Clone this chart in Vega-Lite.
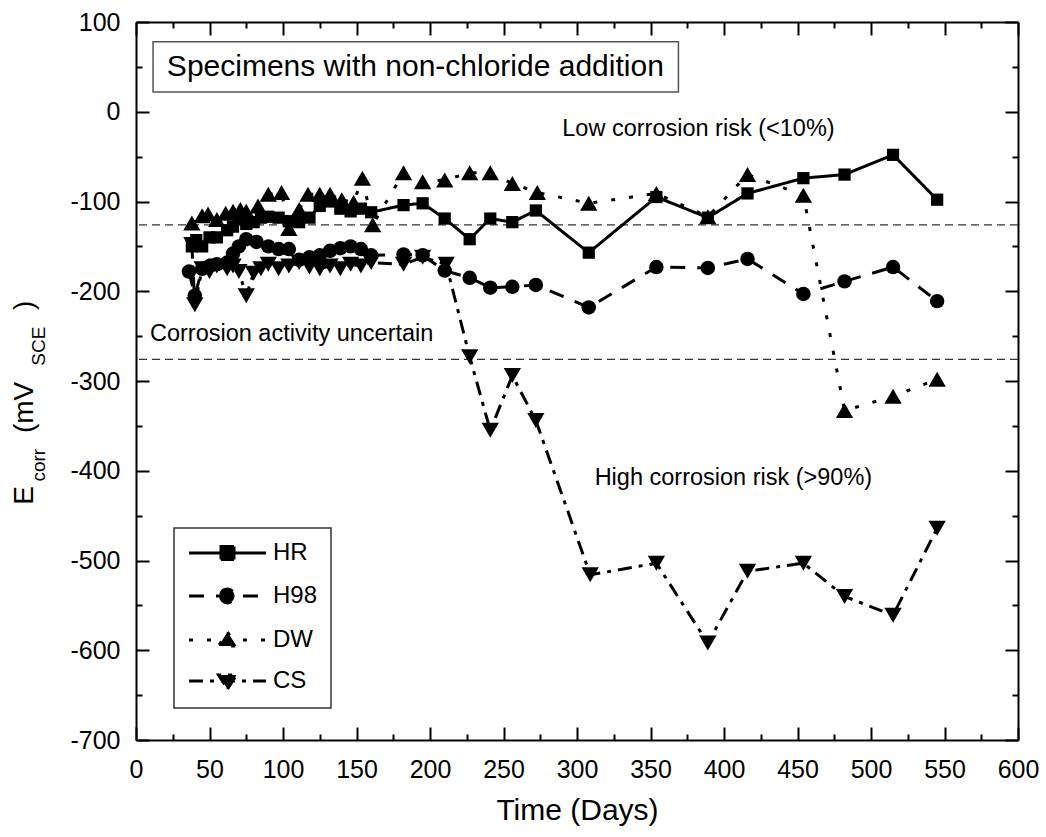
{
  "$schema": "https://vega.github.io/schema/vega-lite/v6.json",
  "width": 882,
  "height": 718,
  "autosize": "none",
  "padding": {"left": 136, "top": 22, "right": 28, "bottom": 97},
  "background": "white",
  "datasets": {
    "pts": [
      {"series":"HR","day":38,"e":-150},{"series":"HR","day":41,"e":-143},{"series":"HR","day":45,"e":-150},{"series":"HR","day":50,"e":-140},{"series":"HR","day":55,"e":-140},{"series":"HR","day":62,"e":-132},{"series":"HR","day":66,"e":-128},{"series":"HR","day":70,"e":-120},{"series":"HR","day":75,"e":-125},{"series":"HR","day":80,"e":-123},{"series":"HR","day":85,"e":-118},{"series":"HR","day":90,"e":-117},{"series":"HR","day":97,"e":-118},{"series":"HR","day":104,"e":-122},{"series":"HR","day":111,"e":-123},{"series":"HR","day":118,"e":-118},{"series":"HR","day":125,"e":-105},{"series":"HR","day":132,"e":-100},{"series":"HR","day":139,"e":-108},{"series":"HR","day":146,"e":-111},{"series":"HR","day":153,"e":-108},{"series":"HR","day":160,"e":-112},{"series":"HR","day":182,"e":-104},{"series":"HR","day":195,"e":-102},{"series":"HR","day":210,"e":-119},{"series":"HR","day":227,"e":-142},{"series":"HR","day":241,"e":-119},{"series":"HR","day":256,"e":-123},{"series":"HR","day":272,"e":-110},{"series":"HR","day":308,"e":-157},{"series":"HR","day":354,"e":-95},{"series":"HR","day":389,"e":-118},{"series":"HR","day":416,"e":-91},{"series":"HR","day":454,"e":-74},{"series":"HR","day":482,"e":-70},{"series":"HR","day":515,"e":-48},{"series":"HR","day":545,"e":-98},
      {"series":"H98","day":36,"e":-178},{"series":"H98","day":40,"e":-205},{"series":"H98","day":45,"e":-175},{"series":"H98","day":50,"e":-172},{"series":"H98","day":55,"e":-170},{"series":"H98","day":62,"e":-168},{"series":"H98","day":66,"e":-158},{"series":"H98","day":70,"e":-150},{"series":"H98","day":75,"e":-142},{"series":"H98","day":82,"e":-145},{"series":"H98","day":90,"e":-150},{"series":"H98","day":97,"e":-153},{"series":"H98","day":104,"e":-153},{"series":"H98","day":111,"e":-165},{"series":"H98","day":118,"e":-162},{"series":"H98","day":125,"e":-160},{"series":"H98","day":132,"e":-155},{"series":"H98","day":139,"e":-152},{"series":"H98","day":146,"e":-150},{"series":"H98","day":153,"e":-153},{"series":"H98","day":160,"e":-160},{"series":"H98","day":182,"e":-159},{"series":"H98","day":195,"e":-160},{"series":"H98","day":210,"e":-177},{"series":"H98","day":227,"e":-185},{"series":"H98","day":241,"e":-196},{"series":"H98","day":256,"e":-195},{"series":"H98","day":272,"e":-193},{"series":"H98","day":308,"e":-218},{"series":"H98","day":354,"e":-173},{"series":"H98","day":389,"e":-174},{"series":"H98","day":416,"e":-164},{"series":"H98","day":454,"e":-203},{"series":"H98","day":482,"e":-189},{"series":"H98","day":515,"e":-173},{"series":"H98","day":545,"e":-211},
      {"series":"DW","day":38,"e":-124},{"series":"DW","day":45,"e":-116},{"series":"DW","day":49,"e":-114},{"series":"DW","day":55,"e":-120},{"series":"DW","day":61,"e":-113},{"series":"DW","day":66,"e":-111},{"series":"DW","day":71,"e":-109},{"series":"DW","day":75,"e":-111},{"series":"DW","day":83,"e":-105},{"series":"DW","day":90,"e":-92},{"series":"DW","day":99,"e":-90},{"series":"DW","day":104,"e":-130},{"series":"DW","day":111,"e":-109},{"series":"DW","day":117,"e":-92},{"series":"DW","day":125,"e":-92},{"series":"DW","day":132,"e":-92},{"series":"DW","day":140,"e":-98},{"series":"DW","day":148,"e":-101},{"series":"DW","day":154,"e":-74},{"series":"DW","day":161,"e":-126},{"series":"DW","day":182,"e":-68},{"series":"DW","day":195,"e":-78},{"series":"DW","day":210,"e":-76},{"series":"DW","day":227,"e":-68},{"series":"DW","day":241,"e":-68},{"series":"DW","day":256,"e":-80},{"series":"DW","day":273,"e":-90},{"series":"DW","day":308,"e":-102},{"series":"DW","day":354,"e":-91},{"series":"DW","day":389,"e":-117},{"series":"DW","day":416,"e":-70},{"series":"DW","day":454,"e":-93},{"series":"DW","day":482,"e":-333},{"series":"DW","day":515,"e":-317},{"series":"DW","day":545,"e":-298},
      {"series":"CS","day":38,"e":-148},{"series":"CS","day":40,"e":-215},{"series":"CS","day":45,"e":-175},{"series":"CS","day":50,"e":-178},{"series":"CS","day":55,"e":-172},{"series":"CS","day":62,"e":-175},{"series":"CS","day":66,"e":-172},{"series":"CS","day":70,"e":-178},{"series":"CS","day":75,"e":-205},{"series":"CS","day":80,"e":-180},{"series":"CS","day":85,"e":-175},{"series":"CS","day":90,"e":-170},{"series":"CS","day":97,"e":-175},{"series":"CS","day":104,"e":-172},{"series":"CS","day":111,"e":-168},{"series":"CS","day":118,"e":-173},{"series":"CS","day":125,"e":-175},{"series":"CS","day":132,"e":-172},{"series":"CS","day":139,"e":-175},{"series":"CS","day":146,"e":-170},{"series":"CS","day":153,"e":-172},{"series":"CS","day":160,"e":-168},{"series":"CS","day":182,"e":-170},{"series":"CS","day":195,"e":-162},{"series":"CS","day":211,"e":-170},{"series":"CS","day":227,"e":-273},{"series":"CS","day":241,"e":-355},{"series":"CS","day":256,"e":-294},{"series":"CS","day":272,"e":-344},{"series":"CS","day":309,"e":-516},{"series":"CS","day":354,"e":-503},{"series":"CS","day":389,"e":-592},{"series":"CS","day":416,"e":-512},{"series":"CS","day":454,"e":-503},{"series":"CS","day":482,"e":-540},{"series":"CS","day":515,"e":-561},{"series":"CS","day":545,"e":-464}
    ],
    "one": [{"k": 1}],
    "thresholds": [{"v": -126}, {"v": -276}]
  },
  "layer": [
    {
      "data": {"name": "thresholds"},
      "mark": {"type": "rule", "color": "#333333", "strokeDash": [8, 5], "strokeWidth": 1.3},
      "encoding": {
        "y": {"field": "v", "type": "quantitative", "scale": {"domain": [-700, 100], "nice": false, "zero": false}, "axis": null}
      }
    },
    {
      "data": {"name": "pts"},
      "mark": {"type": "line", "color": "black", "strokeWidth": 3},
      "encoding": {
        "x": {"field": "day", "type": "quantitative", "scale": {"domain": [0, 600], "nice": false, "zero": false},
          "axis": {"orient": "bottom", "values": [0,50,100,150,200,250,300,350,400,450,500,550,600], "tickSize": -13, "labelPadding": 30, "labelFlush": false, "title": "Time (Days)", "titleFontSize": 30, "titleFontWeight": "normal", "titlePadding": 13}},
        "y": {"field": "e", "type": "quantitative", "scale": {"domain": [-700, 100], "nice": false, "zero": false},
          "axis": {"orient": "left", "values": [-700,-600,-500,-400,-300,-200,-100,0,100], "tickSize": -13, "labelPadding": 29, "labelFlush": false, "title": null,
            "labelExpr": "datum.value < 0 ? '-' + abs(datum.value) : '' + datum.value"}},
        "strokeDash": {"field": "series", "type": "nominal",
          "scale": {"domain": ["HR", "H98", "DW", "CS"], "range": [[1, 0], [15, 12], [4, 14], [14, 7, 4, 7]]},
          "legend": {
            "title": null, "orient": "none", "legendX": 38, "legendY": 506,
            "labelFontSize": 24, "labelFont": "Liberation Sans", "labelColor": "black", "labelBaseline": "middle",
            "labelOffset": 62, "symbolSize": 400, "rowPadding": 17, "padding": 13,
            "strokeColor": "#333333", "symbolStrokeWidth": 3, "symbolStrokeColor": "black", "symbolFillColor": "black", "symbolOpacity": 1,
            "encode": {
              "symbols": {"update": {
                "shape": {"signal": "datum.value==='HR'?'M-1,0H6.7M2.2,-0.65H3.5V0.65H2.2Z':datum.value==='H98'?'M-1,0H6.7M2.15,0A0.7,0.7 0 1,0 3.55,0A0.7,0.7 0 1,0 2.15,0Z':datum.value==='DW'?'M-1,0H6.7M2.85,-0.8L3.75,0.6H1.95Z':'M-1,0H6.7M2.85,0.8L3.75,-0.6H1.95Z'"},
                "fill": {"value": "black"}, "fillOpacity": {"value": 1}, "stroke": {"value": "black"}, "strokeWidth": {"value": 3}, "opacity": {"value": 1}
              }},
              "legend": {"update": {"strokeWidth": {"value": 1.5}, "fill": {"value": "white"}}}
            }
          }
        }
      }
    },
    {
      "data": {"name": "pts"},
      "transform": [{"filter": "datum.series === 'HR'"}],
      "mark": {"type": "point", "shape": "square", "size": 150, "filled": true, "color": "black", "opacity": 1},
      "encoding": {
        "x": {"field": "day", "type": "quantitative", "scale": {"domain": [0, 600], "nice": false, "zero": false},
          "axis": {"orient": "top", "values": [0,50,100,150,200,250,300,350,400,450,500,550,600], "tickSize": -13, "labels": false, "title": null}},
        "y": {"field": "e", "type": "quantitative", "scale": {"domain": [-700, 100], "nice": false, "zero": false},
          "axis": {"orient": "right", "values": [-700,-600,-500,-400,-300,-200,-100,0,100], "tickSize": -13, "labels": false, "title": null}}
      }
    },
    {
      "data": {"name": "pts"},
      "transform": [{"filter": "datum.series === 'H98'"}],
      "mark": {"type": "point", "shape": "circle", "size": 210, "filled": true, "color": "black", "opacity": 1},
      "encoding": {
        "x": {"field": "day", "type": "quantitative", "scale": {"domain": [0, 600], "nice": false, "zero": false}, "axis": null},
        "y": {"field": "e", "type": "quantitative", "scale": {"domain": [-700, 100], "nice": false, "zero": false}, "axis": null}
      }
    },
    {
      "data": {"name": "pts"},
      "transform": [{"filter": "datum.series === 'DW'"}],
      "mark": {"type": "point", "shape": "triangle-up", "size": 300, "filled": true, "color": "black", "opacity": 1},
      "encoding": {
        "x": {"field": "day", "type": "quantitative", "scale": {"domain": [0, 600], "nice": false, "zero": false}, "axis": null},
        "y": {"field": "e", "type": "quantitative", "scale": {"domain": [-700, 100], "nice": false, "zero": false}, "axis": null}
      }
    },
    {
      "data": {"name": "pts"},
      "transform": [{"filter": "datum.series === 'CS'"}],
      "mark": {"type": "point", "shape": "triangle-down", "size": 300, "filled": true, "color": "black", "opacity": 1},
      "encoding": {
        "x": {"field": "day", "type": "quantitative", "scale": {"domain": [0, 600], "nice": false, "zero": false}, "axis": null},
        "y": {"field": "e", "type": "quantitative", "scale": {"domain": [-700, 100], "nice": false, "zero": false}, "axis": null}
      }
    },
    {
      "data": {"name": "one"},
      "mark": {"type": "point", "opacity": 0},
      "encoding": {
        "x": {"datum": 300, "type": "quantitative", "scale": {"domain": [0, 600], "nice": false, "zero": false},
          "axis": {"orient": "bottom", "values": [25,75,125,175,225,275,325,375,425,475,525,575], "tickSize": -6, "labels": false, "domain": false, "title": null}},
        "y": {"datum": -300, "type": "quantitative", "scale": {"domain": [-700, 100], "nice": false, "zero": false},
          "axis": {"orient": "left", "values": [-650,-550,-450,-350,-250,-150,-50,50], "tickSize": -6, "labels": false, "domain": false, "title": null}}
      }
    },
    {
      "data": {"name": "one"},
      "mark": {"type": "point", "opacity": 0},
      "encoding": {
        "x": {"datum": 300, "type": "quantitative", "scale": {"domain": [0, 600], "nice": false, "zero": false},
          "axis": {"orient": "top", "values": [25,75,125,175,225,275,325,375,425,475,525,575], "tickSize": -6, "labels": false, "domain": false, "title": null}},
        "y": {"datum": -300, "type": "quantitative", "scale": {"domain": [-700, 100], "nice": false, "zero": false},
          "axis": {"orient": "right", "values": [-650,-550,-450,-350,-250,-150,-50,50], "tickSize": -6, "labels": false, "domain": false, "title": null}}
      }
    },
    {
      "data": {"name": "one"},
      "mark": {"type": "rect", "fill": "white", "stroke": "#555555", "strokeWidth": 1.5},
      "encoding": {
        "x": {"datum": 11.6, "type": "quantitative", "scale": {"domain": [0, 600], "nice": false, "zero": false}, "axis": null},
        "x2": {"datum": 369},
        "y": {"datum": 78, "type": "quantitative", "scale": {"domain": [-700, 100], "nice": false, "zero": false}, "axis": null},
        "y2": {"datum": 22}
      }
    },
    {
      "data": {"name": "one"},
      "mark": {"type": "text", "text": "Specimens with non-chloride addition", "fontSize": 30, "font": "Liberation Sans", "align": "left", "baseline": "middle", "color": "black"},
      "encoding": {
        "x": {"datum": 21, "type": "quantitative", "scale": {"domain": [0, 600], "nice": false, "zero": false}, "axis": null},
        "y": {"datum": 50, "type": "quantitative", "scale": {"domain": [-700, 100], "nice": false, "zero": false}, "axis": null}
      }
    },
    {
      "data": {"name": "one"},
      "mark": {"type": "text", "text": "Low corrosion risk (<10%)", "fontSize": 23.5, "font": "Liberation Sans", "align": "left", "baseline": "alphabetic", "color": "black"},
      "encoding": {
        "x": {"datum": 290, "type": "quantitative", "scale": {"domain": [0, 600], "nice": false, "zero": false}, "axis": null},
        "y": {"datum": -27, "type": "quantitative", "scale": {"domain": [-700, 100], "nice": false, "zero": false}, "axis": null}
      }
    },
    {
      "data": {"name": "one"},
      "mark": {"type": "text", "text": "Corrosion activity uncertain", "fontSize": 23.5, "font": "Liberation Sans", "align": "left", "baseline": "alphabetic", "color": "black"},
      "encoding": {
        "x": {"datum": 9.5, "type": "quantitative", "scale": {"domain": [0, 600], "nice": false, "zero": false}, "axis": null},
        "y": {"datum": -255, "type": "quantitative", "scale": {"domain": [-700, 100], "nice": false, "zero": false}, "axis": null}
      }
    },
    {
      "data": {"name": "one"},
      "mark": {"type": "text", "text": "High corrosion risk (>90%)", "fontSize": 23.5, "font": "Liberation Sans", "align": "left", "baseline": "alphabetic", "color": "black"},
      "encoding": {
        "x": {"datum": 312, "type": "quantitative", "scale": {"domain": [0, 600], "nice": false, "zero": false}, "axis": null},
        "y": {"datum": -416, "type": "quantitative", "scale": {"domain": [-700, 100], "nice": false, "zero": false}, "axis": null}
      }
    },
    {
      "data": {"name": "one"},
      "mark": {"type": "text", "text": "E", "fontSize": 28, "font": "Liberation Sans", "angle": 270, "align": "left", "baseline": "alphabetic", "color": "black"},
      "encoding": {
        "x": {"datum": -70.1, "type": "quantitative", "scale": {"domain": [0, 600], "nice": false, "zero": false}, "axis": null},
        "y": {"datum": -438, "type": "quantitative", "scale": {"domain": [-700, 100], "nice": false, "zero": false}, "axis": null}
      }
    },
    {
      "data": {"name": "one"},
      "mark": {"type": "text", "text": "corr", "fontSize": 19, "font": "Liberation Sans", "angle": 270, "align": "left", "baseline": "alphabetic", "color": "black"},
      "encoding": {
        "x": {"datum": -62, "type": "quantitative", "scale": {"domain": [0, 600], "nice": false, "zero": false}, "axis": null},
        "y": {"datum": -412, "type": "quantitative", "scale": {"domain": [-700, 100], "nice": false, "zero": false}, "axis": null}
      }
    },
    {
      "data": {"name": "one"},
      "mark": {"type": "text", "text": "(mV", "fontSize": 28, "font": "Liberation Sans", "angle": 270, "align": "left", "baseline": "alphabetic", "color": "black"},
      "encoding": {
        "x": {"datum": -70.1, "type": "quantitative", "scale": {"domain": [0, 600], "nice": false, "zero": false}, "axis": null},
        "y": {"datum": -358, "type": "quantitative", "scale": {"domain": [-700, 100], "nice": false, "zero": false}, "axis": null}
      }
    },
    {
      "data": {"name": "one"},
      "mark": {"type": "text", "text": "SCE", "fontSize": 19, "font": "Liberation Sans", "angle": 270, "align": "left", "baseline": "alphabetic", "color": "black"},
      "encoding": {
        "x": {"datum": -62, "type": "quantitative", "scale": {"domain": [0, 600], "nice": false, "zero": false}, "axis": null},
        "y": {"datum": -283, "type": "quantitative", "scale": {"domain": [-700, 100], "nice": false, "zero": false}, "axis": null}
      }
    },
    {
      "data": {"name": "one"},
      "mark": {"type": "text", "text": ")", "fontSize": 28, "font": "Liberation Sans", "angle": 270, "align": "left", "baseline": "alphabetic", "color": "black"},
      "encoding": {
        "x": {"datum": -70.1, "type": "quantitative", "scale": {"domain": [0, 600], "nice": false, "zero": false}, "axis": null},
        "y": {"datum": -221, "type": "quantitative", "scale": {"domain": [-700, 100], "nice": false, "zero": false}, "axis": null}
      }
    }
  ],
  "resolve": {"axis": {"x": "independent", "y": "independent"}},
  "config": {
    "view": {"stroke": null},
    "font": "Liberation Sans",
    "axis": {"domainColor": "black", "domainWidth": 2, "tickColor": "black", "tickWidth": 2, "labelColor": "black", "titleColor": "black", "grid": false, "labelFontSize": 25, "labelFont": "Liberation Sans", "titleFont": "Liberation Sans"}
  }
}
